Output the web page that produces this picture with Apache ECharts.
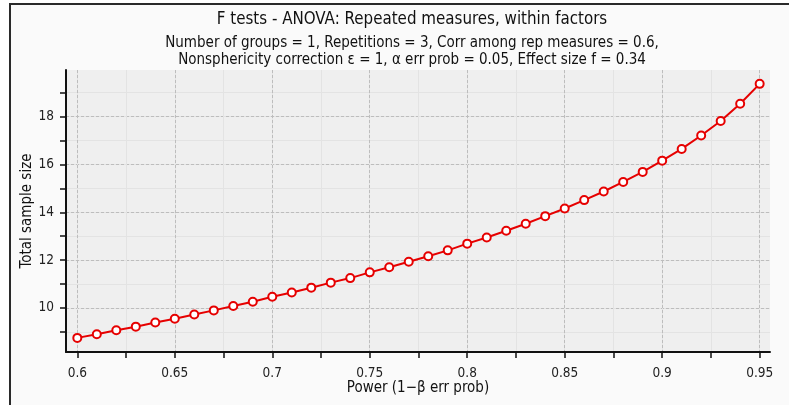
<!DOCTYPE html>
<html>
<head>
<meta charset="utf-8">
<title>F tests - ANOVA</title>
<script src="https://cdn.jsdelivr.net/npm/echarts@6/dist/echarts.min.js"></script>
<style>
  html, body { margin: 0; padding: 0; background: #fff; }
  #myChart { width: 789px; height: 405px; }
</style>
</head>
<body>
<div id="myChart"></div>
<script>
// power (1-β) on x, total sample size on y
var power = [0.6, 0.61, 0.62, 0.63, 0.64, 0.65, 0.66, 0.67, 0.68, 0.69,
  0.7, 0.71, 0.72, 0.73, 0.74, 0.75, 0.76, 0.77, 0.78, 0.79,
  0.8, 0.81, 0.82, 0.83, 0.84, 0.85, 0.86, 0.87, 0.88, 0.89,
  0.9, 0.91, 0.92, 0.93, 0.94, 0.95];
var sampleSize = [8.75, 8.90, 9.07, 9.22, 9.39, 9.55, 9.73, 9.90, 10.08, 10.26,
  10.47, 10.65, 10.85, 11.06, 11.25, 11.49, 11.70, 11.93, 12.16, 12.41,
  12.69, 12.95, 13.23, 13.52, 13.84, 14.16, 14.51, 14.87, 15.27, 15.69,
  16.16, 16.65, 17.21, 17.82, 18.54, 19.37];

// ticks
var xTicks = [0.6, 0.625, 0.65, 0.675, 0.7, 0.725, 0.75, 0.775, 0.8, 0.825, 0.85, 0.875, 0.9, 0.925, 0.95];
var xLabels = [0.6, 0.65, 0.7, 0.75, 0.8, 0.85, 0.9, 0.95];
var yTicks = [9, 10, 11, 12, 13, 14, 15, 16, 17, 18, 19];
var yLabels = [10, 12, 14, 16, 18];

var titleText = 'F tests - ANOVA: Repeated measures, within factors';
var subLine1 = 'Number of groups = 1, Repetitions = 3, Corr among rep measures = 0.6,';
var subLine2 = 'Nonsphericity correction \u03b5 = 1, \u03b1 err prob = 0.05, Effect size f = 0.34';

var fontFam = '"DejaVu Sans Condensed", "DejaVu Sans", sans-serif';

var points = power.map(function (p, i) { return [p, sampleSize[i]]; });

var myChart = echarts.init(document.getElementById('myChart'));

var option = {
  animation: false,
  textStyle: { fontFamily: fontFam },
  graphic: [
    {
      type: 'rect',
      z: -10,
      shape: { x: 10, y: 4, width: 800, height: 420 },
      style: { fill: '#fafafa', stroke: '#2a2a2a', lineWidth: 2 }
    },
    {
      type: 'text', x: 412, y: 20,
      style: { text: titleText, fill: '#111', font: '16.8px ' + fontFam, textAlign: 'center', textVerticalAlign: 'middle' }
    },
    {
      type: 'text', x: 412, y: 43,
      style: { text: subLine1, fill: '#111', font: '15px ' + fontFam, textAlign: 'center', textVerticalAlign: 'middle' }
    },
    {
      type: 'text', x: 412, y: 60,
      style: { text: subLine2, fill: '#111', font: '15px ' + fontFam, textAlign: 'center', textVerticalAlign: 'middle' }
    }
  ],
  grid: {
    left: 66, right: 19, top: 70, bottom: 53,
    show: true, backgroundColor: '#efefef', borderWidth: 0
  },
  xAxis: [
    {
      type: 'value', min: 0.5942, max: 0.9553,
      name: 'Power (1\u2212\u03b2 err prob)', nameLocation: 'middle', nameGap: 29,
      nameMoveOverlap: false,
      nameTextStyle: { fontSize: 15, color: '#111' },
      axisLine: { show: true, lineStyle: { color: '#111', width: 2 } },
      axisTick: { show: true, length: 6, customValues: xTicks, lineStyle: { color: '#111', width: 1.5 } },
      axisLabel: { customValues: xLabels, fontSize: 13.5, color: '#222', margin: 14 },
      splitLine: { show: true, lineStyle: { color: '#e3e3e3', width: 1 } }
    },
    {
      type: 'value', min: 0.5942, max: 0.9553, position: 'top',
      axisLine: { show: false },
      axisTick: { show: false, customValues: xLabels },
      axisLabel: { show: false },
      splitLine: { show: true, lineStyle: { color: '#bdbdbd', width: 1, type: [3, 2] } }
    }
  ],
  yAxis: [
    {
      type: 'value', min: 8.16, max: 19.95,
      name: 'Total sample size', nameLocation: 'middle', nameGap: 31,
      nameMoveOverlap: false,
      nameTextStyle: { fontSize: 15, color: '#111' },
      axisLine: { show: true, lineStyle: { color: '#111', width: 2 } },
      axisTick: { show: true, length: 6, customValues: yTicks, lineStyle: { color: '#111', width: 1.5 } },
      axisLabel: { customValues: yLabels, fontSize: 13.5, color: '#222', margin: 12 },
      splitLine: { show: true, lineStyle: { color: '#e3e3e3', width: 1 } }
    },
    {
      type: 'value', min: 8.16, max: 19.95, position: 'right',
      axisLine: { show: false },
      axisTick: { show: false, customValues: yLabels },
      axisLabel: { show: false },
      splitLine: { show: true, lineStyle: { color: '#bdbdbd', width: 1, type: [3, 2] } }
    }
  ],
  series: [
    {
      type: 'line',
      xAxisIndex: 0, yAxisIndex: 0,
      data: points,
      symbol: 'circle', symbolSize: 8,
      lineStyle: { color: '#e60000', width: 2 },
      itemStyle: { color: '#ffffff', borderColor: '#e60000', borderWidth: 2 },
      z: 5
    }
  ]
};

myChart.setOption(option);
</script>
</body>
</html>
